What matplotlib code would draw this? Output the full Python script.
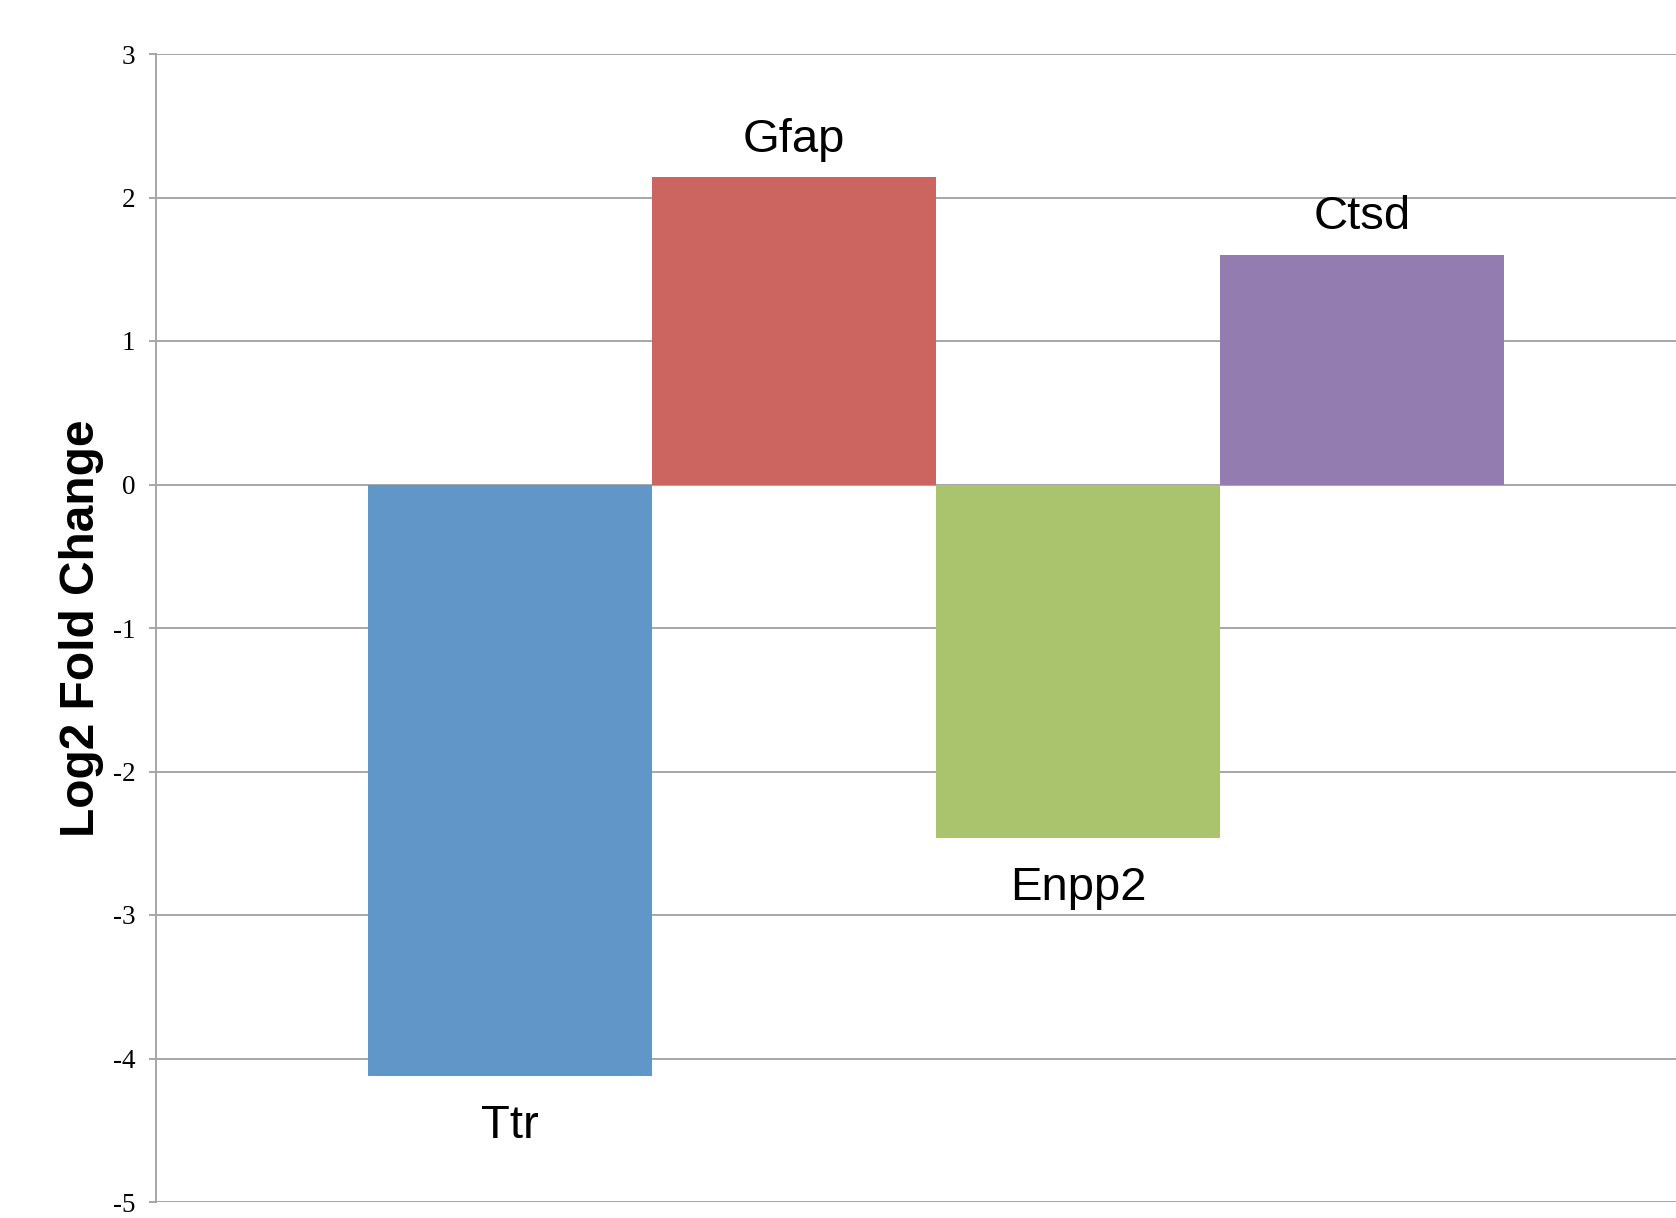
import matplotlib
matplotlib.use("Agg")
import matplotlib.pyplot as plt

genes = ["Ttr", "Gfap", "Enpp2", "Ctsd"]
log2_fc = [-4.12, 2.14, -2.46, 1.60]
bar_colors = ["#6196C9", "#CC6560", "#AAC46D", "#937CB0"]
y_ticks = [3, 2, 1, 0, -1, -2, -3, -4, -5]

fig = plt.figure(figsize=(16.76, 12.18), dpi=100)
ax = fig.add_axes([156 / 1676, 16 / 1218, 1 - 156 / 1676, 1148 / 1218])

x = list(range(len(genes)))
ax.bar(x, log2_fc, width=1.0, color=bar_colors, zorder=3)

grid_color = "#A6A6A6"
ax.set_ylim(-5, 3)
ax.set_xlim(-1.246, 4.105)
ax.set_yticks(y_ticks)
ax.set_yticklabels([str(t) for t in y_ticks], family="Liberation Serif", fontsize=19.5)
ax.set_xticks([])
ax.yaxis.grid(True, color=grid_color, linewidth=1.4, zorder=0)
ax.tick_params(axis="y", length=5, width=1.4, color=grid_color, pad=10)
for side in ["top", "right", "bottom"]:
    ax.spines[side].set_visible(False)
ax.spines["left"].set_color(grid_color)
ax.spines["left"].set_linewidth(1.4)

ax.set_ylabel("Log2 Fold Change", family="Liberation Sans", fontweight="bold", fontsize=34.5)
ax.yaxis.set_label_coords(-0.034, 0.5)

# gene names above positive bars, below negative bars
for xi, name, val in zip(x, genes, log2_fc):
    off = 27 if val > 0 else -36
    ax.annotate(name, xy=(xi, val), xytext=(0, off), textcoords="offset points",
                ha="center", va="center", family="Liberation Sans", fontsize=34)

fig.savefig("out.png", dpi=100)
